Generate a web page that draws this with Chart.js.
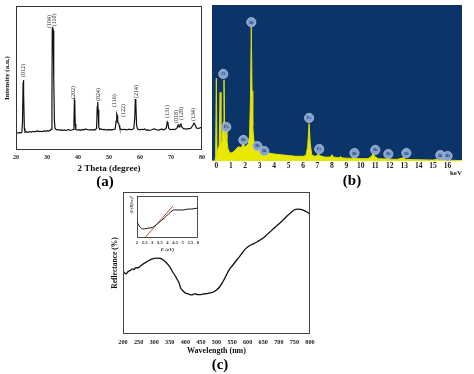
<!DOCTYPE html>
<html>
<head>
<meta charset="utf-8">
<script src="https://cdn.jsdelivr.net/npm/chart.js"></script>
<style>
  body { margin: 0; background: #fff; width: 474px; height: 374px; position: relative; overflow: hidden; }
  canvas { position: absolute; }
  .tag { position: absolute; font: bold 15px "Liberation Serif", serif; color: #000; transform: translate(-50%, -50%); }
</style>
</head>
<body>
<canvas id="xrd" width="210" height="190" style="left:0;top:0"></canvas>
<canvas id="eds" width="269" height="190" style="left:205px;top:0"></canvas>
<canvas id="refl" width="215" height="189" style="left:105px;top:185px"></canvas>
<canvas id="tauc" width="76" height="60" style="left:126px;top:194px"></canvas>
<div class="tag" style="left:105px;top:181px">(a)</div>
<div class="tag" style="left:352px;top:180px">(b)</div>
<div class="tag" style="left:220px;top:364px">(c)</div>
<script>
const SERIF = '"Liberation Serif", "DejaVu Serif", serif';

// (a) XRD pattern
const xrdTheta = [20.0, 20.5, 21.0, 21.5, 21.9, 22.1, 22.3, 22.4, 22.5, 22.7, 22.9, 23.5, 24.0, 24.5, 25.0, 25.5, 26.0, 26.5, 27.0, 27.5,
  28.0, 28.5, 29.0, 29.5, 30.0, 30.5, 31.0, 31.4, 31.6, 31.7, 31.85, 32.0, 32.1, 32.25, 32.4, 32.6, 33.0, 33.5, 34.0, 34.5,
  35.0, 35.5, 36.0, 36.5, 37.0, 37.5, 38.0, 38.5, 38.7, 38.85, 38.95, 39.1, 39.3, 40.0, 40.5, 41.0, 41.5, 42.0, 42.5, 43.0,
  43.5, 44.0, 44.5, 45.0, 45.5, 46.0, 46.2, 46.35, 46.5, 46.7, 47.0, 47.5, 48.0, 48.5, 49.0, 49.5, 50.0, 50.5, 51.0, 51.5,
  52.0, 52.3, 52.5, 52.65, 52.8, 53.1, 53.3, 53.5, 54.0, 54.5, 55.0, 55.5, 56.0, 56.5, 57.0, 57.5, 58.0, 58.3, 58.5, 58.65,
  58.9, 59.2, 60.0, 60.5, 61.0, 61.5, 62.0, 62.5, 63.0, 63.5, 64.0, 64.5, 65.0, 65.5, 66.0, 66.5, 67.0, 67.5, 68.0, 68.5,
  68.8, 69.0, 69.3, 69.8, 70.5, 71.0, 71.5, 72.0, 72.3, 72.6, 72.9, 73.2, 73.5, 74.0, 74.5, 75.0, 75.5, 76.0, 76.5, 77.0,
  77.4, 77.8, 78.2, 78.7, 79.2, 79.6, 80.0];
const xrdIntensity = [12.0, 11.8, 12.1, 11.9, 12.2, 20, 47, 48.6, 40, 15, 12.4, 12.6, 12.3, 12.8, 12.5, 13.0, 12.6, 12.9, 13.3, 12.8,
  13.0, 12.7, 13.2, 13.0, 13.4, 13.1, 13.6, 14.5, 40, 84, 85.4, 83, 82, 50, 20, 15, 14.0, 14.2, 13.8, 14.0,
  13.7, 13.9, 13.6, 13.8, 14.2, 13.7, 13.9, 14.3, 20, 34.7, 34, 18, 14.2, 13.8, 14.1, 13.7, 14.3, 14.0, 14.6, 14.1,
  13.9, 14.2, 13.9, 14.1, 14.0, 15, 30, 33.3, 28, 16, 14.3, 14.6, 14.1, 14.3, 13.9, 14.2, 14.0, 14.2, 14.0, 14.3,
  14.6, 20, 25, 24, 19, 18.7, 17, 15, 14.3, 14.1, 14.4, 14.0, 14.2, 14.5, 14.1, 14.3, 14.8, 22, 35.4, 33,
  17, 14.5, 14.0, 14.4, 14.1, 14.6, 13.8, 14.0, 13.7, 13.9, 14.2, 14.6, 14.4, 14.0, 13.8, 14.1, 14.6, 14.0, 14.3, 15.5,
  19.4, 18.5, 15, 14.1, 14.4, 14.2, 14.5, 15.5, 17.4, 16, 17.5, 18, 16, 14.8, 14.7, 14.5, 14.9, 14.8, 15.3, 17,
  18.6, 17.5, 15.3, 15.0, 15.2, 15.6, 15.5];
const xrdPlanes = ['(012)', '(104)', '(110)', '(202)', '(024)', '(116)', '(122)', '(214)', '(131)', '(018)', '(128)', '(134)'];
const xrdPlaneTheta = [22.4, 30.7, 32.3, 38.6, 46.5, 51.8, 54.6, 58.8, 68.9, 71.8, 73.5, 77.3];
const xrdPlaneLevel = [50.7, 84.7, 86.0, 35.4, 34.0, 29.9, 22.9, 36.1, 22.2, 18.7, 20.8, 20.1];

// (b) EDS spectrum
const edsKeV = [-0.3, -0.1, -0.05, 0.0, 0.05, 0.12, 0.2, 0.26, 0.32, 0.4, 0.48, 0.53, 0.58, 0.63, 0.68, 0.73, 0.8, 0.9, 1.0, 1.1,
  1.2, 1.3, 1.4, 1.5, 1.6, 1.7, 1.8, 1.87, 1.93, 2.0, 2.1, 2.2, 2.3, 2.36, 2.42, 2.47, 2.52, 2.6, 2.7, 2.8,
  2.86, 2.92, 3.0, 3.1, 3.2, 3.3, 3.4, 3.5, 3.7, 4.0, 4.5, 5.0, 5.5, 6.0, 6.2, 6.32, 6.42, 6.5, 6.6, 6.8,
  7.0, 7.06, 7.12, 7.5, 7.9, 8.0, 8.1, 8.5, 8.6, 8.7, 9.0, 9.4, 9.5, 9.6, 10.0, 10.5, 10.75, 10.84, 10.95, 11.2,
  11.8, 11.9, 12.0, 12.5, 13.0, 13.1, 14.0, 15.0, 15.25, 15.4, 15.7, 16.0, 17.0];
const edsCounts = [0, 0, 3, 53, 4, 8, 10, 44, 12, 12, 25, 52, 20, 14, 24, 14, 8, 6, 5, 5.5,
  6, 7, 8, 9, 9, 8.5, 10, 13, 10, 9, 10, 11, 16, 40, 86, 45, 22, 13, 11, 10,
  12, 10, 8, 7, 7, 8, 6.5, 5.5, 5, 4.5, 4, 3.5, 3, 3, 3.5, 9, 24, 11, 4, 3,
  3.5, 5.5, 3.5, 2.5, 2.5, 4, 2.5, 2, 3, 2, 1.8, 1.8, 2.5, 1.8, 1.5, 1.5, 3, 5, 3, 1.5,
  1.3, 2, 1.2, 1, 2.2, 1, 0.8, 0.6, 1.2, 0.6, 0.8, 0.5, 0.3];
const edsTicks = [0, 1, 2, 3, 4, 5, 6, 7, 8, 9, 10, 11, 12, 13, 14, 15, 16];
const edsElements = ['Bi', 'O', 'Fe', 'Bi', 'Bi', 'Bi', 'Fe', 'Fe', 'Bi', 'Bi', 'Bi', 'Bi', 'Bi', 'Bi'];
const edsElementKeV = [2.42, 0.48, 0.69, 1.87, 2.84, 3.32, 6.42, 7.12, 9.56, 11.0, 11.9, 13.15, 15.5, 16.0];
const edsElementLevel = [89, 55.8, 21.8, 13.5, 9.6, 6.4, 27.6, 7.7, 5.1, 7.1, 4.5, 5.1, 3.8, 3.2];

// (c) reflectance spectrum
const wavelength = [200, 205, 210, 215, 220, 225, 230, 235, 240, 250, 260, 270, 280, 290, 300, 310, 320, 330, 340, 350,
  360, 370, 380, 385, 390, 400, 410, 420, 430, 440, 450, 460, 470, 480, 490, 500, 510, 520, 530, 540,
  550, 560, 570, 580, 590, 600, 610, 620, 630, 640, 650, 660, 670, 680, 690, 700, 710, 720, 730, 740,
  750, 760, 770, 780, 790, 800];
const reflectance = [44.4, 43.0, 42.3, 43.7, 44.4, 45.0, 45.8, 45.4, 46.5, 46.8, 48.6, 50.0, 51.4, 52.5, 53.2, 53.5, 53.2, 52.0, 50.0, 47.2,
  43.5, 40.0, 35.9, 32.4, 31.0, 28.9, 28.2, 27.5, 28.2, 27.8, 27.8, 28.2, 28.5, 28.9, 29.6, 31.0, 33.1, 36.6, 40.8, 45.0,
  47.9, 50.7, 53.5, 56.3, 59.2, 61.3, 62.7, 63.7, 64.8, 66.2, 67.6, 69.5, 71.6, 73.6, 75.6, 77.5, 79.6, 81.7, 83.8, 85.8,
  87.5, 88.0, 87.7, 87.0, 85.9, 84.5];
const wavelengthStep = 50;

// inset: Tauc plot
const photonEnergy = [2.0, 2.1, 2.2, 2.3, 2.4, 2.6, 2.8, 3.0, 3.2, 3.4, 3.6, 3.8, 4.0, 4.2, 4.4, 4.6, 4.8, 5.0, 5.2, 5.4, 5.6, 5.8, 6.0];
const taucValue = [38, 31, 26, 22.6, 21.4, 22.6, 23.8, 25, 29.8, 35.7, 41.7, 47.6, 54.8, 61.9, 66.7, 66.7, 66.7, 66.7, 67.9, 69, 69, 70.2, 71.4];
const fitEnergy = [2.5, 4.35];
const fitValue = [0, 76];
const taucTicks = [2, 2.5, 3, 3.5, 4, 4.5, 5, 5.5, 6];

const pts = (xs, ys) => xs.map((x, i) => ({ x: x, y: ys[i] }));

const framePlugin = (color, width) => ({
  id: 'frame',
  afterDraw(chart) {
    const a = chart.chartArea, ctx = chart.ctx;
    ctx.save();
    ctx.strokeStyle = color;
    ctx.lineWidth = width;
    ctx.strokeRect(a.left + 0.5, a.top + 0.5, a.right - a.left - 1, a.bottom - a.top - 1);
    ctx.restore();
  }
});

const hidden = { display: false, drawTicks: false };

// 1️⃣ XRD
new Chart(document.getElementById('xrd'), {
  type: 'line',
  data: {
    datasets: [{
      data: pts(xrdTheta, xrdIntensity),
      borderColor: '#111',
      borderWidth: 1.2,
      pointRadius: 0,
      tension: 0
    }]
  },
  options: {
    responsive: false,
    animation: false,
    layout: { padding: { top: 6, right: 8, bottom: 14, left: 0 } },
    plugins: { legend: { display: false }, tooltip: { enabled: false } },
    scales: {
      x: {
        type: 'linear', min: 20, max: 80,
        grid: hidden, border: { display: false },
        ticks: { stepSize: 10, padding: 4, color: '#222', font: { family: SERIF, size: 6, weight: 'bold' }, maxRotation: 0 },
        title: { display: true, text: '2 Theta (degree)', color: '#111', padding: { top: 0, bottom: 1.6 }, font: { family: SERIF, size: 9, weight: 'bold' } },
        afterFit: s => { s.height = 26; }
      },
      y: {
        min: 0, max: 100,
        grid: hidden, border: { display: false },
        ticks: { display: false },
        title: { display: true, text: 'Intensity (a.u.)', color: '#111', padding: { top: 2.5, bottom: 0 }, font: { family: SERIF, size: 7, weight: 'bold' } },
        afterFit: s => { s.width = 16; }
      }
    }
  },
  plugins: [framePlugin('#333', 1), {
    id: 'planes',
    afterDatasetsDraw(chart) {
      const ctx = chart.ctx, sx = chart.scales.x, sy = chart.scales.y;
      ctx.save();
      ctx.fillStyle = '#222';
      ctx.font = '6px ' + SERIF;
      ctx.textAlign = 'left';
      ctx.textBaseline = 'middle';
      xrdPlanes.forEach((t, i) => {
        ctx.save();
        ctx.translate(sx.getPixelForValue(xrdPlaneTheta[i]), sy.getPixelForValue(xrdPlaneLevel[i]));
        ctx.rotate(-Math.PI / 2);
        ctx.fillText(t, 0, 0);
        ctx.restore();
      });
      ctx.restore();
    }
  }]
});

// 2️⃣ EDS
new Chart(document.getElementById('eds'), {
  type: 'line',
  data: {
    datasets: [{
      data: pts(edsKeV, edsCounts),
      borderColor: '#dede10',
      backgroundColor: '#e8e800',
      borderWidth: 1,
      fill: 'origin',
      pointRadius: 0,
      tension: 0
    }]
  },
  options: {
    responsive: false,
    animation: false,
    layout: { padding: { top: 5, right: 12, bottom: 12, left: 0 } },
    plugins: { legend: { display: false }, tooltip: { enabled: false } },
    scales: {
      x: {
        type: 'linear', min: -0.3, max: 17,
        grid: hidden, border: { display: false },
        afterBuildTicks: s => { s.ticks = edsTicks.map(v => ({ value: v })); },
        ticks: { padding: 0.5, color: '#222', autoSkip: false, maxRotation: 0, font: { family: SERIF, size: 7.5, weight: 'bold' } },
        title: { display: true, text: 'keV', align: 'end', color: '#222', padding: { top: 0, bottom: 1 }, font: { family: SERIF, size: 7, weight: 'bold' } },
        afterFit: s => { s.height = 17; }
      },
      y: {
        min: 0, max: 100,
        grid: hidden, border: { display: false },
        ticks: { display: false },
        afterFit: s => { s.width = 7; }
      }
    }
  },
  plugins: [{
    id: 'panel',
    beforeDatasetsDraw(chart) {
      const a = chart.chartArea, ctx = chart.ctx;
      ctx.save();
      ctx.fillStyle = '#0b3468';
      ctx.fillRect(a.left, a.top, a.right - a.left, a.bottom - a.top);
      ctx.restore();
    },
    afterDatasetsDraw(chart) {
      const ctx = chart.ctx, sx = chart.scales.x, sy = chart.scales.y;
      ctx.save();
      ctx.textAlign = 'center';
      ctx.textBaseline = 'middle';
      edsElements.forEach((t, i) => {
        const x = sx.getPixelForValue(edsElementKeV[i]), y = sy.getPixelForValue(edsElementLevel[i]);
        ctx.beginPath();
        ctx.arc(x, y, 4.6, 0, Math.PI * 2);
        ctx.fillStyle = '#86a2cc';
        ctx.fill();
        ctx.lineWidth = 0.8;
        ctx.strokeStyle = '#a9c0e0';
        ctx.stroke();
        ctx.fillStyle = '#1d3f74';
        ctx.font = 'bold 4.5px ' + SERIF;
        ctx.fillText(t, x, y + 0.3);
      });
      ctx.restore();
    }
  }]
});

// 3️⃣ Reflectance
new Chart(document.getElementById('refl'), {
  type: 'line',
  data: {
    datasets: [{
      data: pts(wavelength, reflectance),
      borderColor: '#111',
      borderWidth: 1.3,
      pointRadius: 0,
      tension: 0.3
    }]
  },
  options: {
    responsive: false,
    animation: false,
    layout: { padding: { top: 7, right: 10, bottom: 17, left: 0 } },
    plugins: { legend: { display: false }, tooltip: { enabled: false } },
    scales: {
      x: {
        type: 'linear', min: 200, max: 800,
        grid: hidden, border: { display: false },
        ticks: { stepSize: wavelengthStep, padding: 4.5, autoSkip: false, maxRotation: 0, color: '#222', font: { family: SERIF, size: 6.2, weight: 'bold' } },
        title: { display: true, text: 'Wavelength (nm)', color: '#111', padding: { top: 0, bottom: 1 }, font: { family: SERIF, size: 8, weight: 'bold' } },
        afterFit: s => { s.height = 23; }
      },
      y: {
        min: 0, max: 100,
        grid: hidden, border: { display: false },
        ticks: { display: false },
        title: { display: true, text: 'Reflectance (%)', color: '#111', padding: { top: 5.5, bottom: 0 }, font: { family: SERIF, size: 7.5, weight: 'bold' } },
        afterFit: s => { s.width = 18; }
      }
    }
  },
  plugins: [framePlugin('#444', 1)]
});

// 4️⃣ Tauc inset
new Chart(document.getElementById('tauc'), {
  type: 'line',
  data: {
    datasets: [{
      data: pts(photonEnergy, taucValue),
      borderColor: '#111',
      borderWidth: 1,
      pointRadius: 0,
      tension: 0.3
    }, {
      data: pts(fitEnergy, fitValue),
      borderColor: '#c0392b',
      borderWidth: 0.9,
      pointRadius: 0
    }]
  },
  options: {
    responsive: false,
    animation: false,
    layout: { padding: { top: 2, right: 4, bottom: 1, left: 0 } },
    plugins: { legend: { display: false }, tooltip: { enabled: false } },
    scales: {
      x: {
        type: 'linear', min: 2, max: 6,
        grid: hidden, border: { display: false },
        afterBuildTicks: s => { s.ticks = taucTicks.map(v => ({ value: v })); },
        ticks: { padding: 2, autoSkip: false, maxRotation: 0, color: '#222', callback: v => String(v), font: { family: SERIF, size: 4.6, weight: 'bold' } },
        title: { display: true, text: 'E (eV)', color: '#222', padding: { top: 0, bottom: 0 }, font: { family: SERIF, size: 5, style: 'italic', weight: 'bold' } },
        afterFit: s => { s.height = 15; }
      },
      y: {
        min: 0, max: 100,
        grid: hidden, border: { display: false },
        ticks: { display: false },
        title: { display: true, text: '(F(R)hν)²', align: 'end', color: '#222', padding: { top: 3, bottom: 0 }, font: { family: SERIF, size: 4.6, style: 'italic' } },
        afterFit: s => { s.width = 11; }
      }
    }
  },
  plugins: [framePlugin('#222', 0.8)]
});
</script>
</body>
</html>
